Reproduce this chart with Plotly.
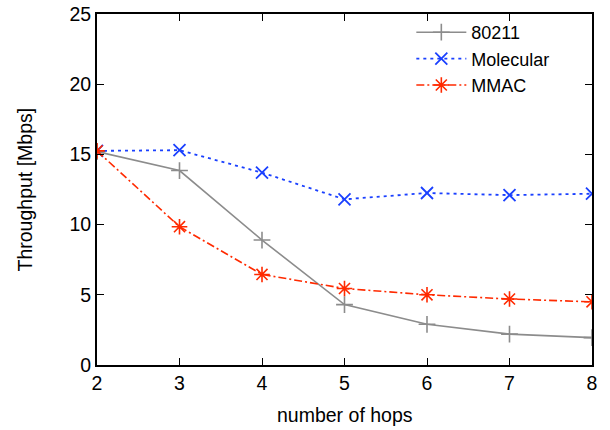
import plotly.graph_objects as go

hops = [2, 3, 4, 5, 6, 7, 8]
s80211 = [15.2, 13.85, 8.9, 4.3, 2.9, 2.2, 1.95]
molecular = [15.25, 15.3, 13.7, 11.8, 12.25, 12.1, 12.2]
mmac = [15.25, 9.85, 6.45, 5.45, 5.0, 4.7, 4.5]

FONT = "Liberation Sans, Arial, Helvetica, sans-serif"

fig = go.Figure()
fig.add_trace(go.Scatter(x=hops, y=s80211, name="80211", mode="lines+markers",
                         line=dict(color="#8c8c8c", width=1.6),
                         marker=dict(symbol="cross-thin", size=12, line=dict(color="#8c8c8c", width=1.6))))
fig.add_trace(go.Scatter(x=hops, y=molecular, name="Molecular", mode="lines+markers",
                         line=dict(color="#1a40ff", width=1.8, dash="3px,4px"),
                         marker=dict(symbol="x-thin", size=12, line=dict(color="#1a40ff", width=1.8))))
fig.add_trace(go.Scatter(x=hops, y=mmac, name="MMAC", mode="lines+markers",
                         line=dict(color="#ff2a00", width=1.6, dash="8px,3px,2px,3px"),
                         marker=dict(symbol="asterisk", size=13, line=dict(color="#ff2a00", width=1.6))))

axis_common = dict(showline=True, linecolor="black", linewidth=2, mirror="ticks",
                   ticks="inside", ticklen=7, tickcolor="black", tickwidth=1.2,
                   showgrid=False, zeroline=False, automargin=False,
                   tickfont=dict(family=FONT, size=19.5, color="black"))

fig.update_layout(
    width=610, height=430,
    margin=dict(l=97, r=18, t=14, b=65),
    paper_bgcolor="white", plot_bgcolor="white",
    font=dict(family=FONT, size=19.5, color="black"),
    xaxis=dict(range=[2, 8], dtick=1, **axis_common),
    yaxis=dict(range=[0, 25], dtick=5, **axis_common),
    legend=dict(x=0.635, y=1.0, xanchor="left", yanchor="top", bgcolor="rgba(0,0,0,0)",
                font=dict(family=FONT, size=18), itemwidth=50, tracegroupgap=0),
    showlegend=True,
    annotations=[
        dict(text="number of hops", xref="paper", yref="paper", x=0.5, y=-0.142,
             xanchor="center", yanchor="middle", showarrow=False,
             font=dict(family=FONT, size=19.5, color="black")),
        dict(text="Throughput [Mbps]", xref="paper", yref="paper", x=-0.1455, y=0.5,
             xanchor="center", yanchor="middle", textangle=-90, showarrow=False,
             font=dict(family=FONT, size=19.5, color="black")),
    ],
)

fig.write_html("out.html")
